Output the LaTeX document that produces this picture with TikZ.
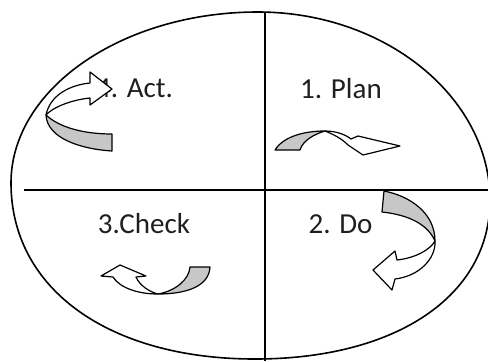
\documentclass[tikz,border=0pt]{standalone}
\usepackage{fontspec}
\setmainfont{Carlito}
\begin{document}
\begin{tikzpicture}[x=0.5pt,y=-0.5pt,
  outline/.style={draw=black, line width=0.8pt},
  divider/.style={draw=black, line width=0.9pt},
  backface/.style={fill=black!22, draw=black, line width=0.6pt, line join=round},
  frontface/.style={fill=white, draw=black, line width=0.6pt, line join=round},
  lbl/.style={anchor=base, inner sep=0pt, text=black!88, font=\fontsize{14.5}{17}\selectfont}]
\useasboundingbox (0,0) rectangle (488,361);
% outer oval
\draw[outline] (11,183) .. controls (11,89) and (122,12) .. (258,12)
  .. controls (386,12) and (490,98) .. (490,200)
  .. controls (490,296) and (396,359) .. (255,359)
  .. controls (109,359) and (11,289) .. (11,183) -- cycle;
% dividers
\coordinate (vt) at (265,12);
\coordinate (vb) at (265,361);
\coordinate (hl) at (24,190);
\coordinate (hr) at (488,190);
\draw[divider] (vt) -- (vb);
\draw[divider] (hl) -- (hr);
% labels
\node[lbl] (act) at (134.5,97) {4. Act.};
\node[lbl] (plan) at (341,98) {1. Plan};
\node[lbl] (do) at (340.5,233) {2. Do};
\node[lbl] (check) at (144,233) {3.Check};
% Act arrow
\path[backface] (46,115) .. controls (60,128) and (85,134) .. (112,134)
  -- (112,151) .. controls (80,149) and (47,138) .. (46,115) -- cycle;
\path[frontface] (46,115) .. controls (50,95) and (70,85) .. (90,83)
  -- (90,72) -- (112,89) -- (90,105) -- (90,98)
  .. controls (70,100) and (52,108) .. (46,115) -- cycle;
% Plan arrow
\path[backface] (275,150) .. controls (283,137) and (303,131) .. (325,131)
  .. controls (315,134) and (303,140) .. (300,150) -- cycle;
\path[frontface] (325,131) .. controls (337,131) and (346,135) .. (351,139)
  -- (358,136) -- (400,146) -- (363,155) -- (348,145)
  .. controls (342,139) and (335,135) .. (325,131) -- cycle;
% Do arrow
\path[backface] (384,191) .. controls (410,196) and (435,213) .. (435,241)
  .. controls (428,225) and (410,215) .. (382,212) -- cycle;
\path[frontface] (435,241) .. controls (436,258) and (420,276) .. (395,279)
  -- (392,290) -- (373,270) -- (395,251) -- (397,260)
  .. controls (415,258) and (430,250) .. (435,241) -- cycle;
% Check arrow
\path[backface] (190,267) -- (210,267) .. controls (209,287) and (185,294) .. (158,294)
  .. controls (175,291) and (189,280) .. (190,267) -- cycle;
\path[frontface] (158,294) .. controls (138,294) and (120,288) .. (113,277)
  -- (101,276) -- (120,265) -- (146,276) -- (136,277)
  .. controls (140,286) and (150,292) .. (158,294) -- cycle;
\end{tikzpicture}
\end{document}
